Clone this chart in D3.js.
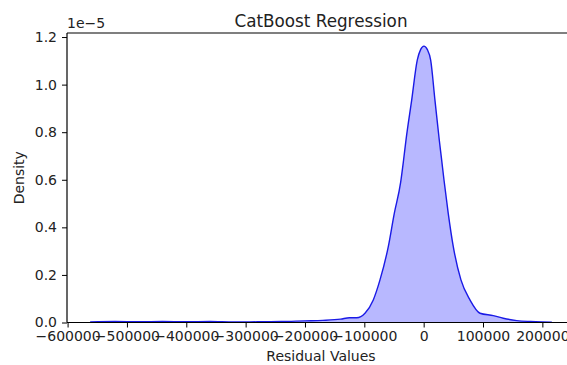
<!DOCTYPE html>
<html>
<head>
<meta charset="utf-8">
<script src="https://cdn.jsdelivr.net/npm/d3@7"></script>
<style>
body { margin: 0; background: white; }
svg { display: block; }
svg text { font-family: "DejaVu Sans", sans-serif; }
</style>
</head>
<body>
<svg></svg>
<script>
// residual values (x) and density in units of 1e-5 (y)
var residuals = [-562000, -520000, -480000, -440000, -400000, -360000, -320000, -280000, -240000, -200000,
	-170000, -140000, -125000, -112900, -98900, -84900, -73600, -59600, -49500, -38750,
	-34000, -29800, -20200, -10800, -5000, 500, 6000, 11800, 19000, 26300,
	30000, 34200, 41400, 49900, 62800, 78000, 94900, 117300, 134100, 156700,
	180000, 200000, 216000];
var density = [0.002, 0.004, 0.003, 0.004, 0.003, 0.004, 0.002, 0.003, 0.004, 0.007,
	0.009, 0.014, 0.020, 0.020, 0.039, 0.095, 0.179, 0.319, 0.459, 0.590,
	0.680, 0.767, 0.935, 1.103, 1.148, 1.162, 1.148, 1.103, 0.935, 0.767,
	0.690, 0.600, 0.459, 0.319, 0.179, 0.095, 0.039, 0.029, 0.018, 0.008,
	0.004, 0.002, 0.001];
var xTicks = [-600000, -500000, -400000, -300000, -200000, -100000, 0, 100000, 200000];
var yTicks = [0.0, 0.2, 0.4, 0.6, 0.8, 1.0, 1.2];

function draw(){
	var width = 567;
	var height = 365;
	var mLeft = 67, mRight = 575, mTop = 33, mBottom = 322.5;

	var svg = d3.select("svg").attr("width", width).attr("height", height);

	var x = d3.scaleLinear().domain([-601000, 255000]).range([mLeft, mRight]);
	var y = d3.scaleLinear().domain([0, 1.217]).range([mBottom, mTop]);

	var pts = residuals.map(function(r, i) { return [r, density[i]]; });

	var area = d3.area()
		.x(d => x(d[0]))
		.y0(y(0))
		.y1(d => y(d[1]))
		.curve(d3.curveMonotoneX);

	var line = d3.line()
		.x(d => x(d[0]))
		.y(d => y(d[1]))
		.curve(d3.curveMonotoneX);

	svg.append("path")
		.datum(pts)
		.attr("d", area)
		.style("fill", "blue")
		.style("fill-opacity", 0.28)
		.style("stroke", "none");

	svg.append("path")
		.datum(pts)
		.attr("d", line)
		.style("fill", "none")
		.style("stroke", "#1a1ae6")
		.style("stroke-width", 1.4);

	// axes
	var xAxis = svg.append("g")
		.attr("transform", "translate(0," + mBottom + ")")
		.call(d3.axisBottom(x).tickValues(xTicks).tickSize(5).tickPadding(4)
			.tickFormat(d => d < 0 ? "\u2212" + Math.abs(d) : d));
	xAxis.select(".domain").remove();
	xAxis.selectAll("text").style("font-size", "14px").style("fill", "#222");

	var yAxis = svg.append("g")
		.attr("transform", "translate(" + mLeft + ",0)")
		.call(d3.axisLeft(y).tickValues(yTicks).tickSize(5).tickPadding(5).tickFormat(d3.format(".1f")));
	yAxis.select(".domain").remove();
	yAxis.selectAll("text").style("font-size", "14px").style("fill", "#222");

	// spines
	svg.append("line").attr("x1", mLeft).attr("x2", mLeft).attr("y1", mTop).attr("y2", mBottom)
		.style("stroke", "black").style("stroke-width", 1.2);
	svg.append("line").attr("x1", mLeft).attr("x2", mRight).attr("y1", mBottom).attr("y2", mBottom)
		.style("stroke", "black").style("stroke-width", 1.2);
	svg.append("line").attr("x1", mLeft).attr("x2", mRight).attr("y1", mTop).attr("y2", mTop)
		.style("stroke", "black").style("stroke-width", 1.2);

	// texts
	svg.append("text")
		.attr("x", (mLeft + mRight) / 2)
		.attr("y", 26.5)
		.attr("text-anchor", "middle")
		.style("font-size", "16.8px")
		.style("fill", "#222")
		.text("CatBoost Regression");

	svg.append("text")
		.attr("x", mLeft)
		.attr("y", 28)
		.style("font-size", "14px")
		.style("fill", "#222")
		.text("1e\u22125");

	svg.append("text")
		.attr("x", (mLeft + mRight) / 2)
		.attr("y", 361)
		.attr("text-anchor", "middle")
		.style("font-size", "14px")
		.style("fill", "#222")
		.text("Residual Values");

	svg.append("text")
		.attr("transform", "translate(24," + ((mTop + mBottom) / 2) + ") rotate(-90)")
		.attr("text-anchor", "middle")
		.style("font-size", "14px")
		.style("fill", "#222")
		.text("Density");
}

draw();
</script>
</body>
</html>
